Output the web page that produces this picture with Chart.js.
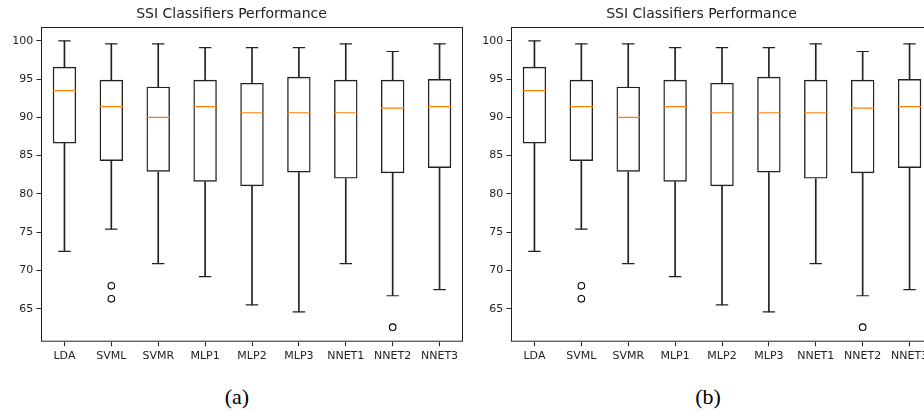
<!DOCTYPE html>
<html>
<head>
<meta charset="utf-8">
<script src="https://cdn.jsdelivr.net/npm/chart.js@4.4.1/dist/chart.umd.min.js"></script>
<style>
  html, body { margin: 0; padding: 0; background: #fff; overflow: hidden; }
  body { width: 924px; height: 412px; position: relative; }
  canvas { position: absolute; top: 0; }
  .cap { position: absolute; top: 383px; width: 60px; margin-left: -30px; text-align: center;
         font-family: "Liberation Serif", serif; font-size: 22px; color: #000; line-height: 28px; }
</style>
</head>
<body>
<canvas id="panelA" width="470" height="372" style="left:0px"></canvas>
<canvas id="panelB" width="470" height="372" style="left:470px"></canvas>
<div class="cap" style="left:237px">(a)</div>
<div class="cap" style="left:708px">(b)</div>
<script>
const titulo = "SSI Classifiers Performance";
const clasificadores = ["LDA", "SVML", "SVMR", "MLP1", "MLP2", "MLP3", "NNET1", "NNET2", "NNET3"];
const bigoteBajo = [72.5, 75.4, 70.9, 69.2, 65.5, 64.6, 70.9, 66.7, 67.5];
const q1 = [86.6, 84.3, 82.9, 81.6, 81.0, 82.8, 82.0, 82.7, 83.4];
const mediana = [93.5, 91.4, 90.0, 91.4, 90.6, 90.6, 90.6, 91.2, 91.4];
const q3 = [96.6, 94.9, 94.0, 94.9, 94.5, 95.3, 94.9, 94.9, 95.0];
const bigoteAlto = [100.0, 99.6, 99.6, 99.1, 99.1, 99.1, 99.6, 98.6, 99.6];
const atipicosCat = ["SVML", "SVML", "NNET2"];
const atipicosValor = [68.0, 66.3, 62.6];
const yTicks = [65, 70, 75, 80, 85, 90, 95, 100];

Chart.defaults.font.family = "'DejaVu Sans', sans-serif";
Chart.defaults.color = "#222";

const negro = "#222";
const naranja = "#ff7f0e";

// marco completo alrededor del area del grafico
const marco = {
  id: "marco",
  afterDraw(chart) {
    const a = chart.chartArea;
    const ctx = chart.ctx;
    ctx.save();
    ctx.strokeStyle = negro;
    ctx.lineWidth = 1;
    ctx.strokeRect(a.left + 0.5, a.top + 0.5, a.right - a.left - 1, a.bottom - a.top - 1);
    ctx.restore();
  },
};

function crearGrafica(id) {
  const ctx = document.getElementById(id).getContext("2d");
  return new Chart(ctx, {
    type: "bar",
    data: {
      labels: clasificadores,
      datasets: [
        {
          type: "line",
          label: "mediana",
          data: mediana,
          showLine: false,
          pointStyle: "line",
          pointRadius: 11.7,
          pointBorderColor: naranja,
          pointBorderWidth: 1.2,
          order: 0,
        },
        {
          type: "line",
          label: "atipicos",
          data: atipicosCat.map((c, i) => ({ x: c, y: atipicosValor[i] })),
          showLine: false,
          pointStyle: "circle",
          pointRadius: 3.3,
          pointBackgroundColor: "#fff",
          pointBorderColor: "#000",
          pointBorderWidth: 1.1,
          order: 0,
        },
        {
          type: "line",
          label: "tope alto",
          data: bigoteAlto,
          showLine: false,
          pointStyle: "line",
          pointRadius: 6.2,
          pointBorderColor: negro,
          pointBorderWidth: 1.2,
          order: 1,
        },
        {
          type: "line",
          label: "tope bajo",
          data: bigoteBajo,
          showLine: false,
          pointStyle: "line",
          pointRadius: 6.2,
          pointBorderColor: negro,
          pointBorderWidth: 1.2,
          order: 1,
        },
        {
          label: "caja",
          data: clasificadores.map((_, i) => [q1[i], q3[i]]),
          backgroundColor: "rgba(0,0,0,0)",
          borderColor: negro,
          borderWidth: 1.4,
          borderSkipped: false,
          grouped: false,
          categoryPercentage: 1,
          barPercentage: 0.5,
          order: 2,
        },
        {
          label: "bigote alto",
          data: clasificadores.map((_, i) => [q3[i], bigoteAlto[i]]),
          backgroundColor: negro,
          borderWidth: 0,
          grouped: false,
          barThickness: 1,
          order: 3,
        },
        {
          label: "bigote bajo",
          data: clasificadores.map((_, i) => [bigoteBajo[i], q1[i]]),
          backgroundColor: negro,
          borderWidth: 0,
          grouped: false,
          barThickness: 1,
          order: 3,
        },
      ],
    },
    options: {
      responsive: false,
      animation: false,
      events: [],
      layout: { autoPadding: false, padding: { left: 0, right: 7, top: 0, bottom: 0 } },
      plugins: {
        legend: { display: false },
        tooltip: { enabled: false },
        title: {
          display: true,
          text: titulo,
          color: negro,
          font: { size: 14, weight: "normal" },
          padding: { top: 5.6, bottom: 4.6 },
        },
      },
      scales: {
        x: {
          type: "category",
          offset: true,
          border: { display: false },
          grid: { display: true, offset: false, drawOnChartArea: false, drawTicks: true, tickLength: 4.5, color: negro },
          ticks: { font: { size: 11 }, color: negro, padding: 3, maxRotation: 0, autoSkip: false },
          afterFit(scale) {
            scale.height = 30.3;
            scale.paddingLeft = 0;
            scale.paddingRight = 0;
          },
        },
        y: {
          min: 60.7,
          max: 101.8,
          border: { display: false },
          grid: { display: true, drawOnChartArea: false, drawTicks: true, tickLength: 4.5, color: negro },
          ticks: { font: { size: 11 }, color: negro, padding: 3.3 },
          afterBuildTicks(scale) { scale.ticks = yTicks.map((v) => ({ value: v })); },
          afterFit(scale) {
            scale.width = 41;
            scale.paddingTop = 0;
            scale.paddingBottom = 0;
          },
        },
      },
    },
    plugins: [marco],
  });
}

crearGrafica("panelA");
crearGrafica("panelB");
</script>
</body>
</html>
